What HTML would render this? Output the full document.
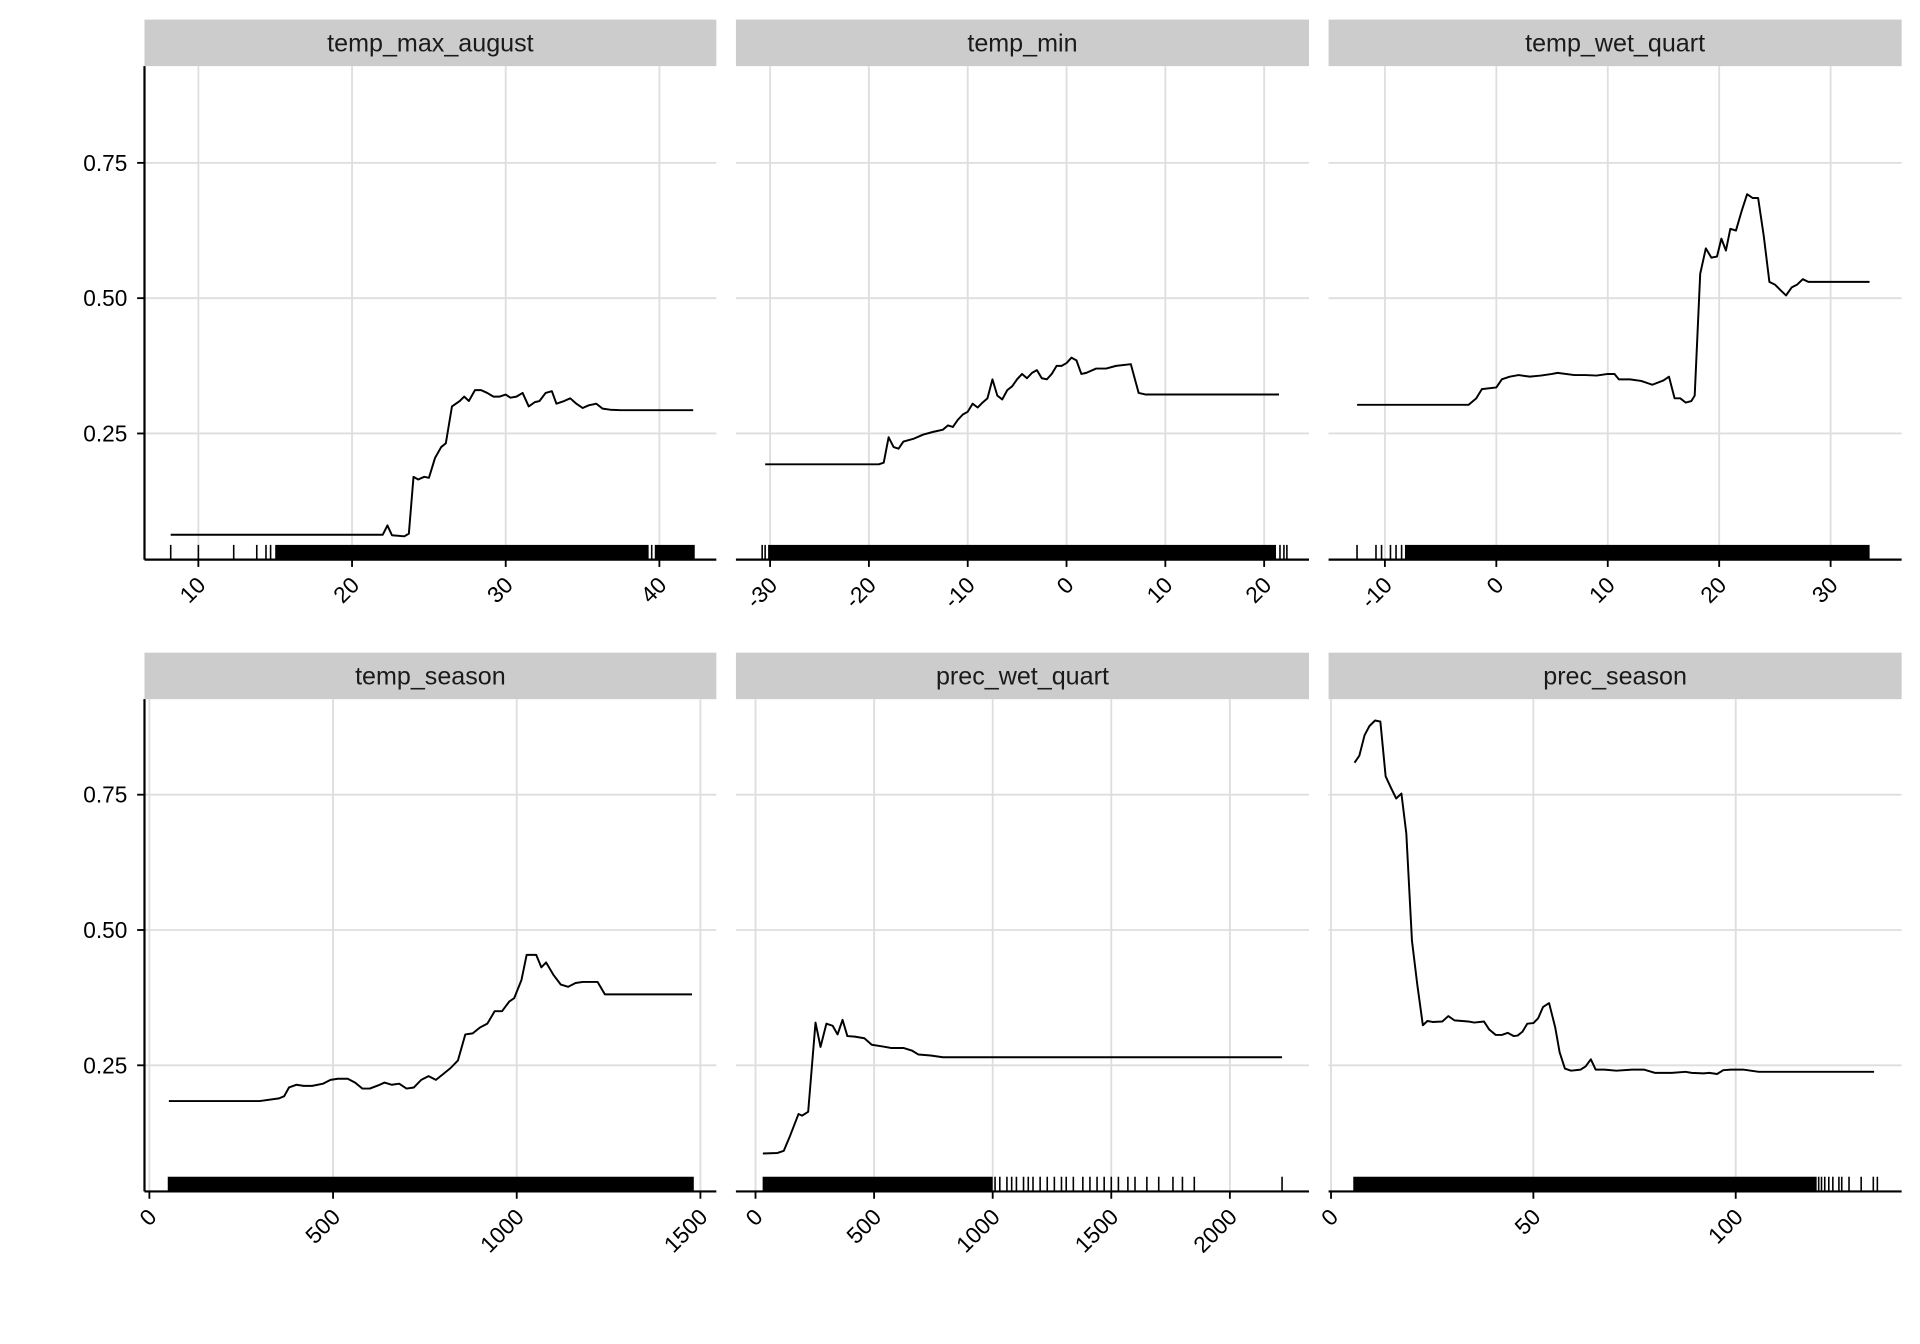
<!DOCTYPE html>
<html><head><meta charset="utf-8"><style>
html,body{margin:0;padding:0;background:#fff;}
svg{display:block;font-family:"Liberation Sans",Arial,sans-serif;}
</style></head><body>
<svg id="chart" width="1920" height="1344" viewBox="0 0 1568 1097.6" xmlns="http://www.w3.org/2000/svg"></svg>
<script>
// ---- data ----
const titles = ["temp_max_august","temp_min","temp_wet_quart","temp_season","prec_wet_quart","prec_season"];
const yTicks = [0.25,0.5,0.75];
const xTicks1 = [10,20,30,40];
const xTicks2 = [-30,-20,-10,0,10,20];
const xTicks3 = [-10,0,10,20,30];
const xTicks4 = [0,500,1000,1500];
const xTicks5 = [0,500,1000,1500,2000];
const xTicks6 = [0,50,100];
const x1 = [8.2,22,22.3,22.6,23.4,23.7,24,24.3,24.7,25,25.4,25.8,26.1,26.5,27,27.3,27.6,28,28.4,28.8,29.2,29.6,30,30.3,30.7,31.1,31.5,31.9,32.2,32.6,33,33.3,33.8,34.2,34.6,35,35.4,35.9,36.3,36.8,37.5,42.2];
const y1 = [0.063,0.063,0.08,0.062,0.06,0.065,0.17,0.165,0.17,0.168,0.205,0.225,0.232,0.3,0.31,0.318,0.31,0.33,0.33,0.325,0.318,0.318,0.322,0.316,0.318,0.325,0.3,0.308,0.31,0.325,0.328,0.305,0.31,0.315,0.305,0.297,0.302,0.305,0.296,0.294,0.293,0.293];
const x2 = [-30.5,-19,-18.5,-18,-17.5,-17,-16.5,-15.5,-14.5,-13.5,-12.5,-12,-11.5,-11,-10.5,-10,-9.5,-9,-8.5,-8,-7.5,-7,-6.5,-6,-5.5,-5,-4.5,-4,-3.5,-3,-2.5,-2,-1.5,-1,-0.5,0,0.5,1,1.5,2,3,4,5,6.5,7.3,8,21.5];
const y2 = [0.193,0.193,0.196,0.243,0.225,0.222,0.235,0.24,0.248,0.253,0.257,0.265,0.262,0.275,0.285,0.29,0.305,0.298,0.307,0.315,0.35,0.32,0.313,0.33,0.337,0.35,0.36,0.352,0.362,0.367,0.352,0.35,0.36,0.375,0.375,0.38,0.39,0.385,0.36,0.362,0.37,0.37,0.375,0.378,0.325,0.322,0.322];
const x3 = [-12.5,-4,-2.5,-1.8,-1.3,0,0.5,1.2,2,3,4,5,5.5,7,8,9,10,10.6,11,12,13,14,15,15.5,16,16.5,17,17.5,17.8,18.3,18.8,19.3,19.8,20.2,20.6,21,21.5,22,22.5,23,23.5,24,24.5,25,25.5,26,26.5,27,27.5,28,33.5];
const y3 = [0.303,0.303,0.303,0.315,0.332,0.335,0.35,0.355,0.358,0.355,0.357,0.36,0.362,0.358,0.358,0.357,0.36,0.36,0.35,0.35,0.347,0.34,0.348,0.355,0.315,0.315,0.307,0.31,0.32,0.545,0.592,0.575,0.577,0.61,0.588,0.628,0.625,0.66,0.692,0.685,0.685,0.615,0.53,0.525,0.515,0.505,0.52,0.525,0.535,0.53,0.53];
const x4 = [53,300,353,367,380,400,420,443,473,493,513,540,560,580,600,627,640,660,680,700,720,740,760,780,800,820,840,860,880,900,920,940,960,980,993,1013,1027,1053,1067,1080,1100,1120,1140,1160,1180,1200,1220,1240,1477];
const y4 = [0.184,0.184,0.189,0.193,0.209,0.214,0.212,0.212,0.216,0.223,0.225,0.225,0.218,0.207,0.207,0.214,0.218,0.214,0.216,0.207,0.209,0.223,0.23,0.223,0.234,0.245,0.259,0.307,0.309,0.32,0.327,0.35,0.35,0.368,0.374,0.408,0.454,0.454,0.431,0.44,0.417,0.399,0.395,0.402,0.404,0.404,0.404,0.381,0.381];
const x5 = [31,93,119,145,181,196,222,253,274,299,325,346,367,387,418,459,490,532,573,625,661,687,738,790,2220];
const y5 = [0.087,0.088,0.092,0.119,0.16,0.157,0.164,0.329,0.284,0.327,0.323,0.307,0.334,0.304,0.303,0.3,0.288,0.285,0.282,0.282,0.277,0.27,0.268,0.265,0.265];
const x6 = [5.8,7,8.3,9.5,10.9,12.2,13.5,14.8,16.1,17.4,18.6,20,21.3,22.7,23.8,25.1,27.5,29,30.5,32.4,33.9,35.4,37.8,39.1,40.7,42.2,43.7,45.1,46.1,47.3,48.5,50,51.2,52.4,53.9,55.4,56.5,57.8,59.3,61.7,62.9,64.2,65.4,67.6,70.5,74.4,77.3,80.1,84.2,87.6,89.1,92,93.5,95.4,96.9,98.8,101.8,105.7,134.2];
const y6 = [0.809,0.822,0.86,0.877,0.887,0.885,0.784,0.763,0.743,0.752,0.678,0.48,0.4,0.324,0.332,0.33,0.331,0.341,0.333,0.332,0.331,0.329,0.331,0.316,0.306,0.306,0.31,0.304,0.305,0.312,0.327,0.328,0.337,0.358,0.365,0.32,0.274,0.244,0.24,0.242,0.248,0.261,0.242,0.242,0.24,0.242,0.242,0.236,0.236,0.238,0.236,0.235,0.236,0.234,0.241,0.242,0.242,0.238,0.238];
// rug: sparse single observations and dense spans [start,end]
const rugSingle1 = [8.2,10,12.3,13.8,14.4,14.7,39.5];
const rugSpan1 = [[15,39.3],[39.7,42.3]];
const rugSingle2 = [-30.8,-30.5,21.6,22,22.3];
const rugSpan2 = [[-30.2,21.2]];
const rugSingle3 = [-12.5,-10.8,-10.3,-9.5,-9,-8.5];
const rugSpan3 = [[-8.2,33.5]];
const rugSingle4 = [];
const rugSpan4 = [[50,1482]];
const rugSingle5 = [1010,1030,1060,1080,1100,1130,1150,1170,1200,1230,1260,1290,1310,1340,1380,1410,1440,1470,1500,1530,1570,1600,1650,1700,1760,1800,1850,2220];
const rugSpan5 = [[30,1000]];
const rugSingle6 = [120.5,121.2,122,123,124,125.5,126.2,128,131,134,135];
const rugSpan6 = [[5.5,120]];

const panels = [
 {x0:118,x1:585,top:16,ax:457,xmin:0,xs:12.55,xoff:162-10*12.55,ticks:xTicks1,xs_:x1,ys:y1,rs:rugSingle1,rp:rugSpan1},
 {x0:601,x1:1069,top:16,ax:457,xs:8.07,xoff:871,ticks:xTicks2,xs_:x2,ys:y2,rs:rugSingle2,rp:rugSpan2},
 {x0:1085,x1:1553,top:16,ax:457,xs:9.1,xoff:1222,ticks:xTicks3,xs_:x3,ys:y3,rs:rugSingle3,rp:rugSpan3},
 {x0:118,x1:585,top:533,ax:973,xs:0.3,xoff:122,ticks:xTicks4,xs_:x4,ys:y4,rs:rugSingle4,rp:rugSpan4},
 {x0:601,x1:1069,top:533,ax:973,xs:0.1937,xoff:617,ticks:xTicks5,xs_:x5,ys:y5,rs:rugSingle5,rp:rugSpan5},
 {x0:1085,x1:1553,top:533,ax:973,xs:3.305,xoff:1087,ticks:xTicks6,xs_:x6,ys:y6,rs:rugSingle6,rp:rugSpan6}
];
const NS="http://www.w3.org/2000/svg";
const svg=document.getElementById('chart');
function mk(tag,attrs,parent){const e=document.createElementNS(NS,tag);for(const k in attrs)e.setAttribute(k,attrs[k]);(parent||svg).appendChild(e);return e;}
panels.forEach((p,i)=>{
  const g=mk('g',{});
  
  
  const sx=v=>p.xoff+v*p.xs;
  const sy=v=>p.ax+7.5-v*442;
  const stripBottom=p.top+38;
  // strip
  const strip=mk('rect',{x:p.x0,y:p.top,width:p.x1-p.x0,height:38,fill:'#cccccc'},g);
  
  
  const st=mk('text',{x:(p.x0+p.x1)/2,y:p.top+26,'text-anchor':'middle','font-size':20.5,fill:'#1a1a1a'},g);
  st.textContent=titles[i];
  
  
  // grid
  yTicks.forEach(t=>{
    const l=mk('line',{x1:p.x0,x2:p.x1,y1:sy(t),y2:sy(t),stroke:'#dedede','stroke-width':1.5},g);
    
    
  });
  p.ticks.forEach(t=>{
    const l=mk('line',{x1:sx(t),x2:sx(t),y1:stripBottom,y2:p.ax,stroke:'#dedede','stroke-width':1.5},g);
    
    
  });
  // rug
  p.rp.forEach(s=>{
    const r=mk('rect',{x:sx(s[0]),y:p.ax-12,width:Math.max(1,sx(s[1])-sx(s[0])),height:12,fill:'#000'},g);
    
    
  });
  p.rs.forEach(v=>{
    const r=mk('line',{x1:sx(v),x2:sx(v),y1:p.ax-12,y2:p.ax,stroke:'#000','stroke-width':1.3},g);
    
    
  });
  // line
  const pts=p.xs_.map((v,k)=>sx(v).toFixed(1)+','+sy(p.ys[k]).toFixed(1)).join(' ');
  const pl=mk('polyline',{points:pts,fill:'none',stroke:'#000','stroke-width':1.6,'stroke-linejoin':'round'},g);
  
  
  // x axis
  const xa=mk('line',{x1:p.x0,x2:p.x1,y1:p.ax,y2:p.ax,stroke:'#000','stroke-width':1.8},g);
  
  
  p.ticks.forEach(t=>{
    const x=sx(t);
    const tk=mk('line',{x1:x,x2:x,y1:p.ax,y2:p.ax+6,stroke:'#000','stroke-width':1.5},g);
    
    
    const lb=mk('text',{x:x+7,y:p.ax+22,'text-anchor':'end','font-size':18.5,fill:'#000',transform:'rotate(-45 '+(x+7)+' '+(p.ax+22)+')'},g);
    lb.textContent=String(t);
    
    
  });
  if(p.x0===118){
    const ya=mk('line',{x1:p.x0,x2:p.x0,y1:stripBottom,y2:p.ax,stroke:'#000','stroke-width':1.8},g);
    
    
    yTicks.forEach(t=>{
      const tk=mk('line',{x1:p.x0-6,x2:p.x0,y1:sy(t),y2:sy(t),stroke:'#000','stroke-width':1.5},g);
      
      
      const lb=mk('text',{x:p.x0-14,y:sy(t)+6.5,'text-anchor':'end','font-size':18.5,fill:'#000'},g);
      lb.textContent=t.toFixed(2);
      
      
    });
  }
});
</script>
</body></html>
